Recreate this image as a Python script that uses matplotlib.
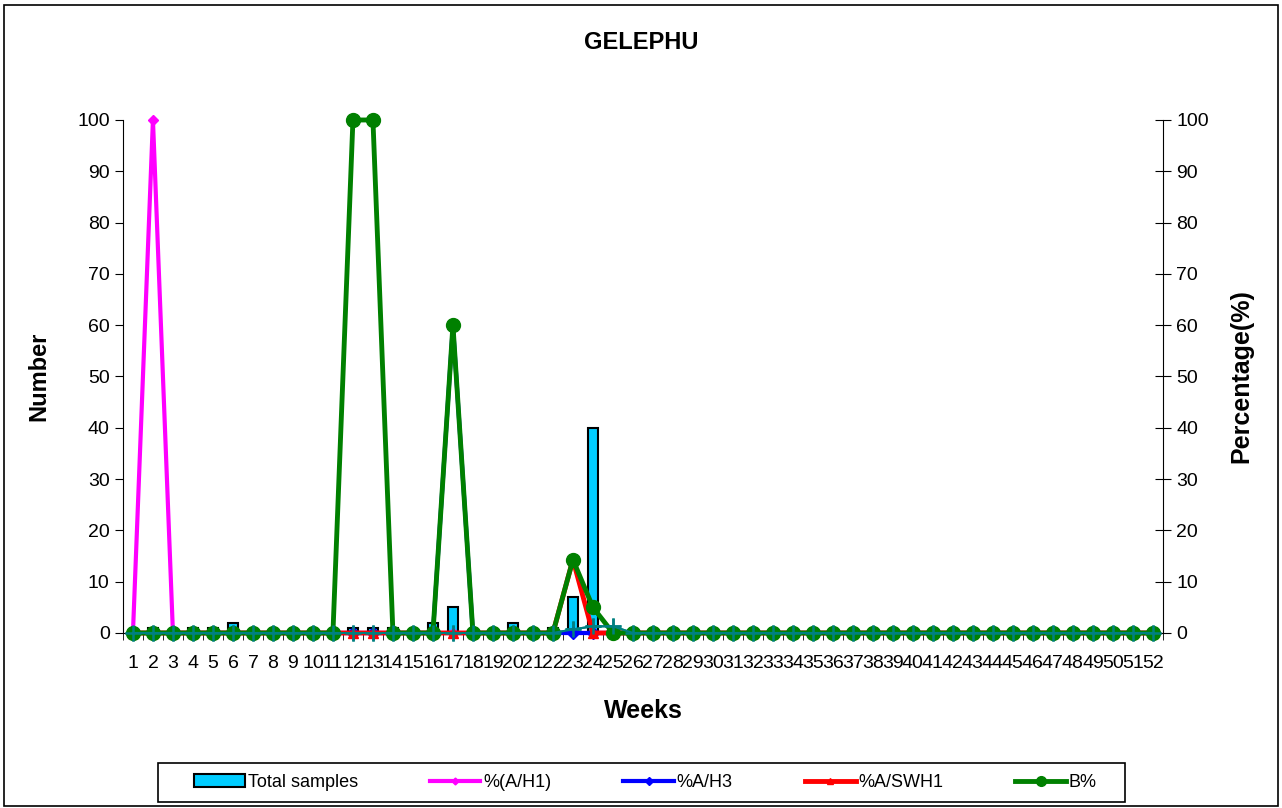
import numpy as np
import matplotlib
matplotlib.use('Agg')
import matplotlib.pyplot as plt
from matplotlib.patches import Rectangle

plt.rcParams['font.family'] = ['Liberation Sans', 'DejaVu Sans']

# Datos por semana
semanas = list(range(1, 53))

# muestras totales (eje izquierdo)
total_muestras = [0] * 52
for s, v in {2: 1, 4: 1, 5: 1, 6: 2, 12: 1, 13: 1, 14: 1, 16: 2, 17: 5,
             20: 2, 22: 1, 23: 7, 24: 40}.items():
    total_muestras[s - 1] = v

pct_ah1 = [0] * 52
pct_ah1[1] = 100

pct_ah3 = [0] * 52
pct_ah3[16] = 60

pct_aswh1 = [0] * 52
pct_aswh1[22] = 14.3

pct_b = [0] * 52
pct_b[11] = 100
pct_b[12] = 100
pct_b[16] = 60
pct_b[22] = 14.3
pct_b[23] = 5

# serie sin leyenda (cruces verde azulado)
positivos = [0] * 52
positivos[22] = 0.7
positivos[23] = 1.3
positivos[24] = 1.3

fig = plt.figure(figsize=(12.82, 8.08), dpi=100)
ax = fig.add_axes([0.0959, 0.2166, 0.8112, 0.6349])

ax.bar(semanas, total_muestras, width=0.5, color='#00CCFF', edgecolor='black',
       linewidth=1.5, label='Total samples', zorder=2)

ax2 = ax.twinx()
ax2.plot(semanas, positivos, color='#008080', linewidth=1.5, marker='+',
         markersize=11, markeredgewidth=1.8, zorder=2, clip_on=False)
ax2.plot(semanas, pct_ah1, color='#FF00FF', linewidth=3, marker='D',
         markersize=5, label='%(A/H1)', zorder=3, clip_on=False)
ax2.plot(semanas, pct_ah3, color='#0000FF', linewidth=3, marker='D',
         markersize=6, label='%A/H3', zorder=3, clip_on=False)
ax2.plot(semanas, pct_aswh1, color='#FF0000', linewidth=3.5, marker='^',
         markersize=7, label='%A/SWH1', zorder=3, clip_on=False)
ax2.plot(semanas, pct_b, color='#008000', linewidth=3.5, marker='o',
         markersize=10, label='B%', zorder=4, clip_on=False)
ax2.plot(semanas, positivos, color='#008080', linewidth=1.5, marker='+',
         markersize=11, markeredgewidth=1.8, zorder=5, clip_on=False)

for a in (ax, ax2):
    a.set_ylim(0, 100)
    a.set_xlim(0.5, 52.5)
    a.set_yticks(range(0, 101, 10))
    a.spines['top'].set_visible(False)
    a.patch.set_visible(False)

ax.spines['right'].set_visible(False)
ax2.spines['left'].set_visible(False)
ax2.spines['bottom'].set_visible(False)

ax.set_xticks(semanas)
ax.set_xticklabels([str(s) for s in semanas], fontsize=14)
ax.tick_params(axis='x', length=0, pad=16)
ax.set_xticks(np.arange(0.5, 53, 1), minor=True)
ax.tick_params(axis='x', which='minor', length=5, direction='out')
ax.tick_params(axis='y', labelsize=14, length=6, direction='out')
ax2.tick_params(axis='y', labelsize=14, length=12, direction='inout')

ax.set_ylabel('Number', fontsize=17, fontweight='bold', labelpad=19)
ax2.set_ylabel('Percentage(%)', fontsize=18, fontweight='bold', labelpad=15)
ax.set_xlabel('Weeks', fontsize=18, fontweight='bold', labelpad=19)
fig.text(0.5, 0.947, 'GELEPHU', ha='center', va='center', fontsize=17, fontweight='bold')

# Leyenda con marco dibujado aparte
h1, l1 = ax.get_legend_handles_labels()
h2, l2 = ax2.get_legend_handles_labels()
leg = fig.legend(h1 + h2, l1 + l2, loc='center', bbox_to_anchor=(0.5035, 0.0316),
                 ncol=5, fontsize=13, frameon=False, handlelength=2.8,
                 columnspacing=4.0, handletextpad=0.15, markerscale=0.7)

fig.patches.append(Rectangle((158 / 1282, 1 - 802 / 808), (1125 - 158) / 1282, 39 / 808,
                             transform=fig.transFigure, fill=False,
                             edgecolor='black', linewidth=1.2))
fig.patches.append(Rectangle((0.003, 0.003), 0.994, 0.991, transform=fig.transFigure,
                             fill=False, edgecolor='black', linewidth=1.2))

fig.savefig('out.png', dpi=100)
